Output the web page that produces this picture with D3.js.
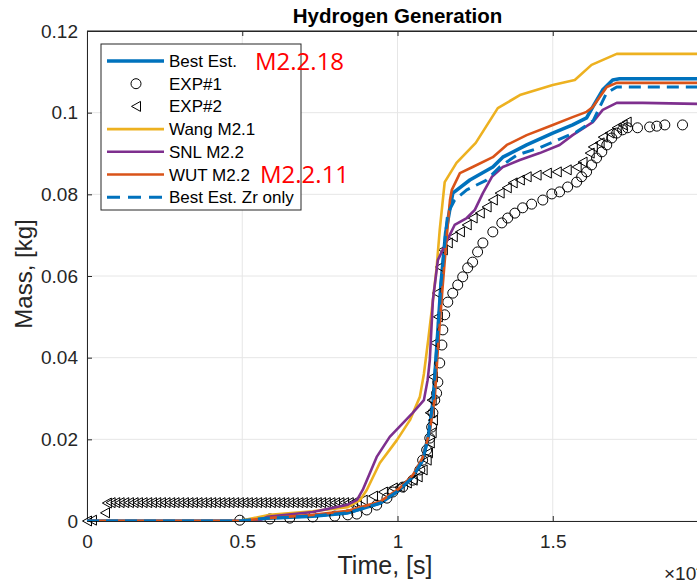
<!DOCTYPE html>
<html>
<head>
<meta charset="utf-8">
<script src="https://cdn.jsdelivr.net/npm/d3@7"></script>
<style>
  body { margin: 0; background: #fff; }
  svg { display: block; font-family: "Liberation Sans", Arial, sans-serif; }
</style>
</head>
<body>
<svg id="chart" width="697" height="583"></svg>
<script>
// time in units of 1e4 s, mass in kg
const bestEst = [[0,0],[0.49,0],[0.58,0.0007],[0.727,0.0012],[0.84,0.002],[0.945,0.0044],[1.006,0.0076],
  [1.049,0.0108],[1.081,0.0149],[1.100,0.021],[1.115,0.0296],[1.126,0.042],[1.14,0.058],[1.155,0.0705],
  [1.17,0.077],[1.178,0.0803],[1.233,0.0835],[1.307,0.0867],[1.339,0.0891],[1.416,0.0921],[1.50,0.095],
  [1.564,0.097],[1.609,0.0987],[1.629,0.1014],[1.661,0.1056],[1.693,0.108],[1.715,0.1083],[2.0,0.1083]];

const exp1 = [[0.492,0.0002],[0.589,0.0005],[0.653,0.0007],[0.727,0.0010],[0.798,0.0012],[0.840,0.0015],
  [0.869,0.0017],[0.901,0.0027],[0.933,0.0039],[0.966,0.0056],[0.985,0.0071],[1.017,0.0083],[1.049,0.0100],
  [1.072,0.0125],[1.081,0.0149],[1.094,0.0174],[1.104,0.0203],[1.110,0.0230],[1.114,0.0265],[1.120,0.0296],
  [1.126,0.0313],[1.130,0.0340],[1.136,0.0387],[1.143,0.0431],[1.146,0.0468],[1.152,0.0505],[1.162,0.0536],
  [1.178,0.0558],[1.194,0.0578],[1.210,0.0598],[1.226,0.0620],[1.242,0.0634],[1.258,0.0659],[1.275,0.0681],
  [1.307,0.0708],[1.336,0.0730],[1.355,0.0742],[1.378,0.0754],[1.403,0.0767],[1.432,0.0776],[1.468,0.0786],
  [1.497,0.0801],[1.522,0.0806],[1.548,0.0818],[1.577,0.0830],[1.593,0.0843],[1.609,0.0855],[1.625,0.0872],
  [1.641,0.0889],[1.658,0.0904],[1.674,0.0921],[1.690,0.0938],[1.706,0.0950],[1.725,0.0958],[1.741,0.0963],
  [1.773,0.0963],[1.812,0.0965],[1.835,0.0967],[1.861,0.0970],[1.918,0.0970]];

const exp2 = [[0,0],[0.016,0.0002],[0.058,0.002],[0.064,0.0044],
  [0.076,0.0045],[0.091,0.0045],[0.105,0.0045],[0.120,0.0045],[0.135,0.0045],[0.150,0.0045],[0.164,0.0045],
  [0.179,0.0045],[0.194,0.0045],[0.209,0.0045],[0.223,0.0045],[0.238,0.0045],[0.253,0.0045],[0.268,0.0045],
  [0.282,0.0045],[0.297,0.0045],[0.312,0.0045],[0.327,0.0045],[0.341,0.0045],[0.356,0.0045],[0.371,0.0045],
  [0.386,0.0045],[0.400,0.0045],[0.415,0.0045],[0.430,0.0045],[0.445,0.0045],[0.459,0.0045],[0.474,0.0045],
  [0.489,0.0045],[0.504,0.0045],[0.518,0.0045],[0.533,0.0045],[0.548,0.0045],[0.563,0.0045],[0.577,0.0045],
  [0.592,0.0045],[0.607,0.0045],[0.622,0.0045],[0.636,0.0045],[0.651,0.0045],[0.666,0.0045],[0.681,0.0045],
  [0.695,0.0045],[0.710,0.0045],[0.725,0.0045],[0.740,0.0045],[0.754,0.0045],[0.769,0.0045],[0.784,0.0045],
  [0.799,0.0045],[0.813,0.0045],[0.828,0.0045],[0.843,0.0045],[0.857,0.0045],
  [0.869,0.0047],[0.888,0.0051],[0.921,0.0061],[0.953,0.0071],[0.985,0.0081],[1.007,0.0083],[1.030,0.0093],
  [1.049,0.0100],[1.065,0.0108],[1.081,0.0125],[1.094,0.0149],[1.098,0.0167],[1.104,0.0191],[1.110,0.0216],
  [1.114,0.0247],[1.104,0.0265],[1.110,0.0296],[1.114,0.0353],[1.120,0.0436],[1.130,0.0500],[1.126,0.0558],
  [1.136,0.0622],[1.146,0.0664],[1.162,0.0681],[1.178,0.0696],[1.201,0.0708],[1.223,0.0725],[1.242,0.0742],
  [1.265,0.0754],[1.287,0.0769],[1.307,0.0786],[1.329,0.0803],[1.352,0.0816],[1.371,0.0828],[1.394,0.0835],
  [1.416,0.0843],[1.448,0.0847],[1.481,0.0852],[1.513,0.0855],[1.545,0.0860],[1.577,0.0867],[1.596,0.0879],
  [1.619,0.0901],[1.629,0.0916],[1.651,0.0926],[1.661,0.0940],[1.683,0.0950],[1.706,0.0963],[1.725,0.0970],
  [1.738,0.0977]];

const wang = [[0,0],[0.49,0],[0.589,0.0015],[0.727,0.0024],[0.84,0.0034],[0.879,0.0051],[0.901,0.0076],
  [0.943,0.0142],[0.998,0.0198],[1.040,0.0247],[1.072,0.0304],[1.085,0.036],[1.100,0.045],[1.114,0.054],
  [1.126,0.062],[1.136,0.0713],[1.152,0.083],[1.19,0.0877],[1.252,0.0926],[1.323,0.1011],[1.394,0.1043],
  [1.50,0.1068],[1.571,0.108],[1.625,0.1117],[1.706,0.1144],[2.0,0.1144]];

const snl = [[0,0],[0.55,0],[0.58,0.001],[0.727,0.0022],[0.836,0.0039],[0.869,0.0051],[0.888,0.0076],
  [0.933,0.0157],[0.975,0.0206],[1.049,0.0265],[1.085,0.0296],[1.097,0.0345],[1.104,0.0394],[1.114,0.0541],
  [1.130,0.0639],[1.168,0.070],[1.184,0.0725],[1.223,0.0742],[1.249,0.0762],[1.275,0.0803],[1.304,0.0843],
  [1.339,0.0867],[1.394,0.0884],[1.458,0.0901],[1.522,0.0921],[1.564,0.0945],[1.629,0.0977],[1.661,0.1007],
  [1.706,0.1024],[1.79,0.1024],[2.0,0.1021]];

const wut = [[0,0],[0.49,0],[0.58,0.0007],[0.727,0.0015],[0.84,0.0025],[0.945,0.0048],[1.006,0.0080],
  [1.049,0.0112],[1.081,0.0155],[1.104,0.022],[1.120,0.030],[1.13,0.042],[1.146,0.058],[1.159,0.0700],
  [1.169,0.0786],[1.175,0.0811],[1.201,0.0852],[1.242,0.0867],[1.307,0.0891],[1.352,0.0921],[1.416,0.0945],
  [1.50,0.097],[1.564,0.0989],[1.609,0.1002],[1.629,0.1014],[1.674,0.1063],[1.706,0.1073],[2.0,0.1073]];

const zrOnly = [[0,0],[0.49,0],[0.58,0.0007],[0.727,0.0012],[0.84,0.002],[0.945,0.0044],[1.006,0.0076],
  [1.049,0.0108],[1.081,0.0149],[1.100,0.021],[1.115,0.0296],[1.126,0.042],[1.14,0.058],[1.155,0.0705],
  [1.162,0.0754],[1.184,0.0786],[1.223,0.0811],[1.287,0.0835],[1.329,0.0867],[1.384,0.0896],[1.458,0.0914],
  [1.577,0.0953],[1.63,0.098],[1.673,0.1048],[1.706,0.1063],[2.0,0.1063]];

const xTicks = [0, 0.5, 1, 1.5, 2];
const xLabelTicks = [0, 0.5, 1, 1.5];
const yTicks = [0, 0.02, 0.04, 0.06, 0.08, 0.1, 0.12];

const series = [
  { name: "Best Est.", data: bestEst, type: "line", color: "#0072BD", width: 3.6 },
  { name: "EXP#1", data: exp1, type: "circle", color: "#000" },
  { name: "EXP#2", data: exp2, type: "tri", color: "#000" },
  { name: "Wang M2.1", data: wang, type: "line", color: "#EDB120", width: 2.6 },
  { name: "SNL M2.2", data: snl, type: "line", color: "#7E2F8E", width: 2.6 },
  { name: "WUT M2.2", data: wut, type: "line", color: "#D95319", width: 2.6 },
  { name: "Best Est. Zr only", data: zrOnly, type: "line", color: "#0072BD", width: 3, dash: "12,7" }
];

const svg = d3.select("#chart");
const plotLeft = 87, plotRight = 708, plotTop = 31, plotBottom = 521;

const x = d3.scaleLinear().domain([0, 2]).range([plotLeft, plotRight]);
const y = d3.scaleLinear().domain([0, 0.12]).range([plotBottom, plotTop]);

svg.append("defs").append("clipPath").attr("id", "plotclip")
  .append("rect").attr("x", plotLeft).attr("y", plotTop)
  .attr("width", plotRight - plotLeft).attr("height", plotBottom - plotTop);

// grid
svg.append("g").selectAll("line").data(xTicks).join("line")
  .attr("x1", d => x(d)).attr("x2", d => x(d)).attr("y1", plotTop).attr("y2", plotBottom)
  .attr("stroke", "#e6e6e6").attr("stroke-width", 1);
svg.append("g").selectAll("line").data(yTicks).join("line")
  .attr("x1", plotLeft).attr("x2", plotRight).attr("y1", d => y(d)).attr("y2", d => y(d))
  .attr("stroke", "#e6e6e6").attr("stroke-width", 1);

// axes
const axisColor = "#262626";
const xAxis = svg.append("g").attr("transform", `translate(0,${plotBottom})`)
  .call(d3.axisBottom(x).tickValues(xLabelTicks).tickFormat(d3.format("")).tickSizeInner(-5).tickSizeOuter(0).tickPadding(14));
const xTop = svg.append("g").attr("transform", `translate(0,${plotTop})`)
  .call(d3.axisTop(x).tickValues(xTicks).tickFormat("").tickSizeInner(-5).tickSizeOuter(0));
const yAxis = svg.append("g").attr("transform", `translate(${plotLeft},0)`)
  .call(d3.axisLeft(y).tickValues(yTicks).tickFormat(d3.format("")).tickSizeInner(-5).tickSizeOuter(0).tickPadding(9));
[xAxis, xTop, yAxis].forEach(g => {
  g.select(".domain").attr("stroke", axisColor).attr("stroke-width", 1);
  g.selectAll(".tick line").attr("stroke", axisColor);
  g.selectAll("text").attr("fill", axisColor).style("font-size", "19px")
    .style("font-family", '"Liberation Sans", Arial, sans-serif');
});

// plot marks
const plot = svg.append("g");
const line = d3.line().x(d => x(d[0])).y(d => y(d[1]));
const triPath = "M-4.5,0L4.5,-5L4.5,5Z";

series.forEach(s => {
  if (s.type === "line") {
    plot.append("path").datum(s.data)
      .attr("clip-path", "url(#plotclip)")
      .attr("d", line).attr("fill", "none")
      .attr("stroke", s.color).attr("stroke-width", s.width)
      .attr("stroke-dasharray", s.dash || null)
      .attr("stroke-linejoin", "round");
  } else if (s.type === "circle") {
    plot.append("g").selectAll("circle").data(s.data).join("circle")
      .attr("cx", d => x(d[0])).attr("cy", d => y(d[1])).attr("r", 5)
      .attr("fill", "none").attr("stroke", s.color).attr("stroke-width", 1);
  } else {
    plot.append("g").selectAll("path").data(s.data).join("path")
      .attr("d", triPath)
      .attr("transform", d => `translate(${x(d[0])},${y(d[1])})`)
      .attr("fill", "none").attr("stroke", s.color).attr("stroke-width", 1);
  }
});

// top border line over marks
svg.append("line").attr("x1", plotLeft).attr("x2", plotRight).attr("y1", plotTop).attr("y2", plotTop)
  .attr("stroke", axisColor);

// title and labels
svg.append("text").attr("x", (plotLeft + plotRight) / 2).attr("y", 23).attr("text-anchor", "middle")
  .style("font-size", "20.5px").style("font-weight", "bold").attr("fill", "#000")
  .text("Hydrogen Generation");
svg.append("text").attr("x", 385).attr("y", 574).attr("text-anchor", "middle")
  .style("font-size", "25px").attr("fill", axisColor).text("Time, [s]");
svg.append("text").attr("transform", "translate(32,274) rotate(-90)").attr("text-anchor", "middle")
  .style("font-size", "24px").attr("fill", axisColor).text("Mass, [kg]");
const expo = svg.append("text").attr("x", 664).attr("y", 580)
  .style("font-size", "19px").attr("fill", axisColor);
expo.append("tspan").text("\u00d710");
expo.append("tspan").attr("dy", -8).style("font-size", "14px").text("4");

// legend
const lg = svg.append("g");
lg.append("rect").attr("x", 101).attr("y", 44).attr("width", 200).attr("height", 166)
  .attr("fill", "#fff").attr("stroke", "#262626").attr("stroke-width", 1);
series.forEach((s, i) => {
  const cy = 61 + i * 22.7;
  if (s.type === "line") {
    lg.append("line").attr("x1", 107).attr("x2", 164).attr("y1", cy).attr("y2", cy)
      .attr("stroke", s.color).attr("stroke-width", s.width)
      .attr("stroke-dasharray", s.dash ? "13,8" : null);
  } else if (s.type === "circle") {
    lg.append("circle").attr("cx", 136).attr("cy", cy).attr("r", 5)
      .attr("fill", "none").attr("stroke", "#000");
  } else {
    lg.append("path").attr("d", triPath).attr("transform", `translate(136,${cy})`)
      .attr("fill", "none").attr("stroke", "#000");
  }
  lg.append("text").attr("x", 169).attr("y", cy + 6).style("font-size", "17px")
    .attr("fill", "#000").text(s.name);
});

// red annotations
svg.append("text").attr("x", 255).attr("y", 70).style("font-size", "24px")
  .style("font-family", '"Open Sans", sans-serif').attr("fill", "#ff0000").text("M2.2.18");
svg.append("text").attr("x", 260).attr("y", 183).style("font-size", "24px")
  .style("font-family", '"Open Sans", sans-serif').attr("fill", "#ff0000").text("M2.2.11");
</script>
</body>
</html>
